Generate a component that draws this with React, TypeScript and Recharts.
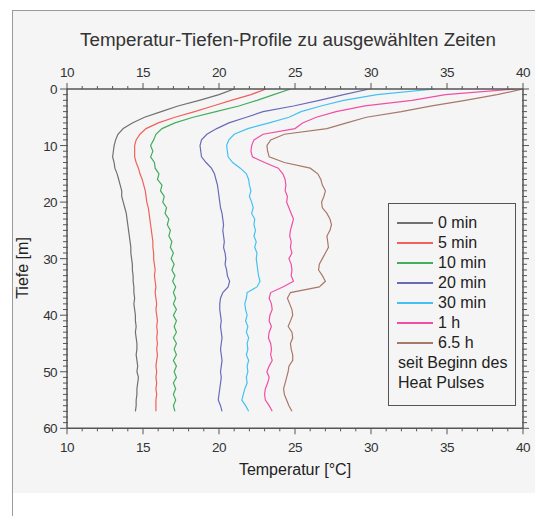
import { LineChart, Line, XAxis, YAxis, Legend } from "recharts";

// depth below surface [m]
const depths = [
  0, 1, 2, 3, 4, 5, 6, 7, 8, 9, 10, 11, 12, 13, 14, 15, 16, 17, 18, 19, 20, 21, 22, 23, 24, 25, 26, 27, 28, 29,
  30, 31, 32, 33, 34, 35, 36, 37, 38, 39, 40, 41, 42, 43, 44, 45, 46, 47, 48, 49, 50, 51, 52, 53, 54, 55, 56, 57,
];

// temperature [°C] per depth, one profile per time since heat pulse start
const t0min = [
  21.0, 20.0, 18.7, 17.3, 16.2, 15.1, 14.3, 13.7, 13.35, 13.2, 13.1, 13.05, 13.0, 13.1, 13.15, 13.3, 13.4, 13.5,
  13.6, 13.6, 13.7, 13.8, 13.9, 13.95, 14.0, 14.05, 14.1, 14.15, 14.2, 14.2, 14.25, 14.3, 14.3, 14.35, 14.35, 14.4,
  14.4, 14.45, 14.4, 14.45, 14.5, 14.5, 14.55, 14.5, 14.55, 14.6, 14.6, 14.55, 14.6, 14.65, 14.6, 14.7, 14.65, 14.6,
  14.6, 14.55, 14.55, 14.5,
];
const t5min = [
  23.1, 22.1, 20.8, 19.6, 18.4, 17.1, 16.0, 15.2, 14.8, 14.55, 14.45, 14.45, 14.45, 14.55, 14.7, 14.8, 14.95, 15.05,
  15.15, 15.2, 15.25, 15.35, 15.4, 15.45, 15.5, 15.55, 15.6, 15.65, 15.65, 15.7, 15.7, 15.75, 15.8, 15.75, 15.8,
  15.85, 15.8, 15.85, 15.9, 15.85, 15.9, 15.95, 15.9, 15.95, 15.9, 15.95, 15.9, 15.95, 15.9, 15.85, 15.9, 15.85,
  15.9, 15.85, 15.9, 15.85, 15.85, 15.85,
];
const t10min = [
  24.7, 23.6, 22.5, 21.3, 19.8, 18.3, 17.1, 16.25, 15.85, 15.7, 15.5, 15.65, 15.5, 15.75, 15.8, 16.05, 15.95, 16.25,
  16.15, 16.4, 16.3, 16.55, 16.45, 16.7, 16.6, 16.8, 16.7, 16.9, 16.8, 17.0, 16.85, 17.05, 16.9, 17.1, 16.95, 17.15,
  17.0, 17.15, 17.0, 17.2, 17.0, 17.2, 17.05, 17.2, 17.0, 17.2, 17.05, 17.2, 17.0, 17.2, 17.05, 17.2, 17.0, 17.15,
  17.0, 17.15, 17.0, 17.1,
];
const t20min = [
  29.9, 28.2, 26.6, 24.9, 22.9, 21.8, 20.65, 19.85, 19.2, 18.85, 18.75, 18.8, 18.85, 19.15, 19.5, 19.7, 19.8, 19.9,
  19.95, 20.0, 20.05, 20.1, 20.2, 20.25, 20.3, 20.25, 20.3, 20.35, 20.3, 20.4, 20.45, 20.4, 20.5, 20.55, 20.7, 20.6,
  20.25, 20.1, 20.05, 20.05, 20.1, 20.15, 20.1, 20.15, 20.2, 20.15, 20.1, 20.15, 20.2, 20.15, 20.1, 20.15, 20.1,
  20.05, 20.0, 19.95, 20.1, 20.2,
];
const t30min = [
  34.2, 30.4, 28.2, 26.7, 25.4, 24.6, 23.3, 21.9, 21.0, 20.65, 20.5, 20.55, 20.6, 20.9, 21.4, 21.8, 21.95, 22.0,
  22.1, 22.0, 22.15, 22.25, 22.15, 22.35, 22.3, 22.4, 22.3, 22.45, 22.35, 22.5, 22.45, 22.5, 22.55, 22.6, 22.7,
  22.5, 21.85, 21.8, 21.7, 21.75, 21.85, 21.75, 21.9, 21.8, 21.95, 21.85, 21.9, 21.8, 21.95, 21.85, 21.9, 21.8,
  21.85, 21.7, 21.6, 21.5, 21.75, 21.95,
];
const t1h = [
  39.5, 34.9, 32.7, 29.6, 27.7, 26.4, 25.5, 25.0, 22.9, 22.3, 22.15, 22.1, 22.2, 23.0, 23.9, 24.2, 24.35, 24.4,
  24.35, 24.5, 24.45, 24.6, 24.75, 24.9, 24.8, 24.7, 24.65, 24.75, 24.7, 24.8, 24.6, 24.75, 24.8, 24.75, 24.9, 24.2,
  23.4, 23.3, 23.45, 23.5, 23.35, 23.3, 23.45, 23.3, 23.25, 23.4, 23.45, 23.4, 23.5, 23.3, 23.15, 23.3, 23.2, 23.05,
  23.0, 23.05, 23.3, 23.5,
];
const t6h5 = [
  40.0, 38.3, 36.2, 34.0, 32.0, 29.7, 28.4, 27.1, 24.3, 23.4, 23.15, 23.2, 23.3, 24.3, 26.0, 26.5, 26.7, 26.8, 27.0,
  26.9, 26.75, 26.8, 27.1, 27.3, 27.4, 27.3, 27.1, 27.15, 27.2, 27.0, 26.8, 26.6, 26.55, 26.8, 27.0, 26.6, 24.7,
  24.5, 24.65, 24.8, 24.85, 24.7, 24.55, 24.8, 24.85, 24.7, 24.75, 24.85, 24.85, 24.6, 24.55, 24.45, 24.35, 24.25,
  24.3, 24.45, 24.6, 24.8,
];

const seriesNames = ["0 min", "5 min", "10 min", "20 min", "30 min", "1 h", "6.5 h"];
const seriesValues = [t0min, t5min, t10min, t20min, t30min, t1h, t6h5];
const seriesColors = ["#707070", "#f0605c", "#42ad5e", "#6a6ab8", "#42c2f2", "#f24ea6", "#a8786a"];
const legendNote = ["seit Beginn des", "Heat Pulses"];

const tempMajorTicks = [10, 15, 20, 25, 30, 35, 40];
const depthMajorTicks = [0, 10, 20, 30, 40, 50, 60];

// minor ticks every 1 unit between the major ones
const tempTicks: number[] = [];
for (let t = 10; t <= 40; t++) tempTicks.push(t);
const depthTicks: number[] = [];
for (let d = 0; d <= 60; d++) depthTicks.push(d);

const data = depths.map((depth, i) => {
  const row: Record<string, number> = { depth };
  seriesNames.forEach((name, s) => {
    row[name] = seriesValues[s][i];
  });
  return row;
});

const TEXT_FONT = "'Liberation Sans', Arial, sans-serif";
const AXIS = "#555";
const INK = "#333";

function TickLabel({ x, y, anchor, value }: any) {
  return (
    <text x={x} y={y} textAnchor={anchor} fontSize={13.5} letterSpacing={-0.6} fill={INK} fontFamily={TEXT_FONT}>
      {value}
    </text>
  );
}

function TopTick({ x, y, payload }: any) {
  const major = tempMajorTicks.includes(payload.value);
  return (
    <g>
      <line x1={x} x2={x} y1={y} y2={y - (major ? 6 : 3)} stroke={AXIS} />
      {major && <TickLabel x={x} y={y - 12} anchor="middle" value={payload.value} />}
    </g>
  );
}

function BottomTick({ x, y, payload }: any) {
  const major = tempMajorTicks.includes(payload.value);
  return (
    <g>
      <line x1={x} x2={x} y1={y} y2={y + (major ? 6 : 3)} stroke={AXIS} />
      {major && <TickLabel x={x} y={y + 24} anchor="middle" value={payload.value} />}
    </g>
  );
}

function LeftTick({ x, y, payload }: any) {
  const major = depthMajorTicks.includes(payload.value);
  return (
    <g>
      <line x1={x - (major ? 7 : 4)} x2={x + 1} y1={y} y2={y} stroke={AXIS} />
      {major && <TickLabel x={x - 10} y={y + 5} anchor="end" value={payload.value} />}
    </g>
  );
}

function RightTick({ x, y, payload }: any) {
  const major = depthMajorTicks.includes(payload.value);
  return <line x1={x - 1} x2={x + (major ? 6 : 4)} y1={y} y2={y} stroke={AXIS} />;
}

function LegendBox({ payload }: any) {
  const items = [...(payload || [])].sort(
    (a: any, b: any) => seriesNames.indexOf(a.value) - seriesNames.indexOf(b.value)
  );
  return (
    <div
      style={{
        width: 128,
        height: 203,
        boxSizing: "border-box",
        border: "1.5px solid #555",
        padding: "9px 0 0 8px",
        fontFamily: TEXT_FONT,
        fontSize: 16,
        color: "#222",
      }}
    >
      {items.map((item: any) => (
        <div key={item.value} style={{ height: 20, display: "flex", alignItems: "center" }}>
          <span
            style={{ width: 36, height: 1.5, background: item.color, display: "inline-block", marginRight: 5 }}
          />
          <span>{item.value}</span>
        </div>
      ))}
      {legendNote.map((line) => (
        <div key={line} style={{ height: 20, lineHeight: "20px", marginLeft: 1 }}>
          {line}
        </div>
      ))}
    </div>
  );
}

export default function App() {
  return (
    <div style={{ position: "absolute", left: 0, top: 0, width: 535, height: 516, background: "#fff", overflow: "hidden" }}>
      <div
        style={{
          position: "absolute",
          left: 12,
          top: 10,
          width: 523,
          height: 482,
          background: "#f5f5f5",
          borderTop: "1px solid #9a9a9a",
          borderLeft: "1px solid #9a9a9a",
        }}
      />
      <div style={{ position: "absolute", left: 12, top: 492, width: 1, height: 24, background: "#9a9a9a" }} />
      <div
        style={{
          position: "absolute",
          left: 0,
          width: 576,
          top: 29,
          textAlign: "center",
          fontFamily: TEXT_FONT,
          fontSize: 18.8,
          color: "#333",
          lineHeight: "22px",
        }}
      >
        Temperatur-Tiefen-Profile zu ausgewählten Zeiten
      </div>
      <div style={{ position: "absolute", left: 0, top: 0 }}>
        <LineChart
          width={535}
          height={516}
          data={data}
          layout="vertical"
          margin={{ top: 59, right: 4, bottom: 57.7, left: 37 }}
        >
          <XAxis
            xAxisId="top"
            orientation="top"
            type="number"
            domain={[10, 40]}
            allowDataOverflow
            ticks={tempTicks}
            interval={0}
            height={30}
            tickSize={0}
            tickMargin={0}
            tickLine={false}
            axisLine={{ stroke: AXIS, strokeWidth: 1.5 }}
            tick={<TopTick />}
          />
          <XAxis
            xAxisId="bottom"
            orientation="bottom"
            type="number"
            domain={[10, 40]}
            allowDataOverflow
            ticks={tempTicks}
            interval={0}
            height={30}
            tickSize={0}
            tickMargin={0}
            tickLine={false}
            axisLine={{ stroke: AXIS, strokeWidth: 1.5 }}
            tick={<BottomTick />}
            label={{
              value: "Temperatur [°C]",
              position: "bottom",
              offset: 5,
              fontSize: 16,
              fill: "#222",
              fontFamily: TEXT_FONT,
            }}
          />
          <YAxis
            yAxisId="left"
            orientation="left"
            type="number"
            dataKey="depth"
            domain={[0, 60]}
            allowDataOverflow
            ticks={depthTicks}
            interval={0}
            width={30}
            tickSize={0}
            tickMargin={0}
            tickLine={false}
            axisLine={{ stroke: AXIS, strokeWidth: 1.5 }}
            tick={<LeftTick />}
            label={{
              content: () => (
                <text
                  x={22}
                  y={268}
                  transform="rotate(-90 22 268)"
                  textAnchor="middle"
                  dominantBaseline="central"
                  fontSize={16}
                  fill="#222"
                  fontFamily={TEXT_FONT}
                >
                  Tiefe [m]
                </text>
              ),
            }}
          />
          <YAxis
            yAxisId="right"
            orientation="right"
            type="number"
            dataKey="depth"
            domain={[0, 60]}
            allowDataOverflow
            ticks={depthTicks}
            interval={0}
            width={8}
            tickSize={0}
            tickMargin={0}
            tickLine={false}
            axisLine={{ stroke: AXIS, strokeWidth: 1.5 }}
            tick={<RightTick />}
          />
          {seriesNames.map((name, i) => (
            <Line
              key={name}
              xAxisId="bottom"
              yAxisId="left"
              type="linear"
              dataKey={name}
              name={name}
              stroke={seriesColors[i]}
              strokeWidth={1.2}
              dot={false}
              activeDot={false}
              isAnimationActive={false}
            />
          ))}
          <Legend
            layout="vertical"
            align="center"
            verticalAlign="middle"
            wrapperStyle={{ left: 388, top: 203, width: 128, height: 203 }}
            content={<LegendBox />}
          />
        </LineChart>
      </div>
    </div>
  );
}
